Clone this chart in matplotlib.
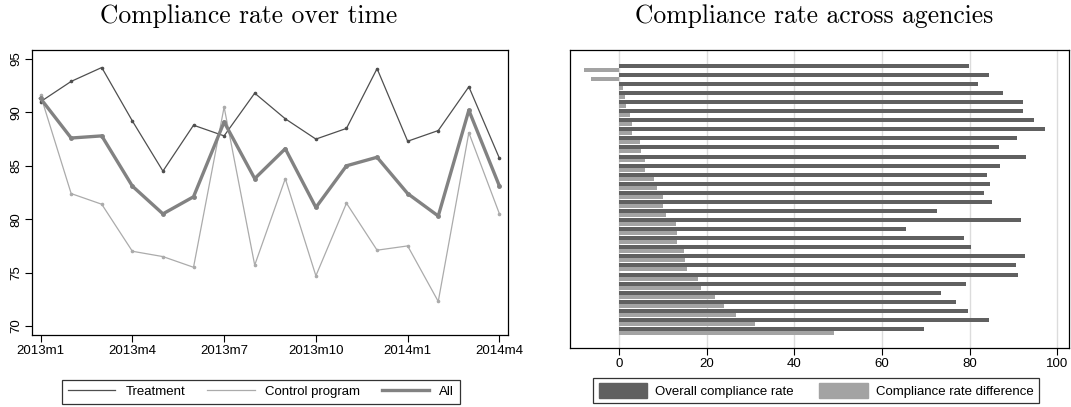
import matplotlib
matplotlib.use('Agg')
import matplotlib.pyplot as plt
import numpy as np
from matplotlib.patches import Patch
from matplotlib.lines import Line2D

plt.rcParams['font.family'] = ['Liberation Sans', 'DejaVu Sans']

# left panel: monthly compliance rates (2013m1 .. 2014m4)
months = list(range(16))
month_ticks = [0, 3, 6, 9, 12, 15]
month_labels = ['2013m1', '2013m4', '2013m7', '2013m10', '2014m1', '2014m4']
treatment = [91.0, 92.9, 94.2, 89.2, 84.5, 88.8, 87.8, 91.8, 89.4, 87.5, 88.5, 94.1, 87.3, 88.3, 92.4, 85.7]
control = [91.6, 82.4, 81.4, 77.0, 76.5, 75.5, 90.5, 75.7, 83.8, 74.7, 81.5, 77.1, 77.5, 72.3, 88.1, 80.5]
overall = [91.3, 87.6, 87.8, 83.1, 80.5, 82.1, 89.1, 83.8, 86.6, 81.1, 85.0, 85.8, 82.4, 80.3, 90.2, 83.1]

# right panel: per agency
agency_rate = [79.8, 84.5, 82.0, 87.7, 92.2, 92.2, 94.6, 97.3, 90.9, 86.8,
               92.9, 87.0, 83.9, 84.6, 83.4, 85.1, 72.6, 91.8, 65.5, 78.8,
               80.3, 92.6, 90.7, 91.1, 79.1, 73.5, 76.8, 79.6, 84.5, 69.5]
agency_diff = [-8.1, -6.4, 0.8, 1.3, 1.5, 2.5, 2.9, 3.0, 4.7, 4.9,
               5.9, 6.0, 8.0, 8.7, 10.1, 10.1, 10.8, 13.0, 13.2, 13.2,
               14.8, 15.1, 15.4, 18.1, 18.7, 21.8, 23.9, 26.6, 31.1, 49.0]

fig = plt.figure(figsize=(10.71, 4.07), dpi=100)

# ---- left: lines over time
ax1 = fig.add_axes([32/1071, 1-335/407, 476/1071, 285/407])
ax1.plot(months, treatment, color='#4f4f4f', lw=0.9, marker='o', ms=1.6, label='Treatment')
ax1.plot(months, control, color='#ababab', lw=0.9, marker='o', ms=1.6, label='Control program')
ax1.plot(months, overall, color='#828282', lw=2.4, marker='o', ms=2.5, label='All')
ax1.set_xlim(-0.28, 15.28)
ax1.set_ylim(69.16, 95.84)
ax1.set_xticks(month_ticks)
ax1.set_xticklabels(month_labels)
ax1.set_yticks([70, 75, 80, 85, 90, 95])
for lab in ax1.get_yticklabels():
    lab.set_rotation(90)
    lab.set_va('center')
ax1.tick_params(labelsize=9.5, length=5, width=0.8, direction='out', pad=2)
for s in ax1.spines.values():
    s.set_linewidth(0.9)

handles = [Line2D([], [], color='#4f4f4f', lw=0.9), Line2D([], [], color='#ababab', lw=0.9),
           Line2D([], [], color='#828282', lw=2.4)]
leg1 = ax1.legend(handles, ['Treatment', 'Control program', 'All'], ncol=3,
                  loc='upper center', bbox_to_anchor=((261-32)/476, -0.133), frameon=True,
                  fancybox=False, edgecolor='black', fontsize=9.5, handlelength=3.6,
                  handletextpad=0.76, columnspacing=1.67, borderpad=0.45, borderaxespad=0.5)
leg1.get_frame().set_linewidth(0.9)

# ---- right: horizontal bars per agency
ax2 = fig.add_axes([570/1071, 1-348/407, 499/1071, 298/407])
pos = np.arange(len(agency_rate))
ax2.barh(pos - 0.22, agency_rate, height=0.44, color='#606060', zorder=2)
ax2.barh(pos + 0.22, agency_diff, height=0.44, color='#a3a3a3', zorder=2)
ax2.set_ylim(30.87, -1.95)
ax2.set_xlim(-11.2, 102.7)
ax2.set_xticks([0, 20, 40, 60, 80, 100])
ax2.set_yticks([])
ax2.grid(axis='x', color='#dcdcdc', lw=1.0, zorder=0)
ax2.tick_params(labelsize=9.5, length=5, width=0.8, direction='out', pad=2)
for s in ax2.spines.values():
    s.set_linewidth(0.9)

handles2 = [Patch(color='#606060'), Patch(color='#a3a3a3')]
leg2 = ax2.legend(handles2, ['Overall compliance rate', 'Compliance rate difference'], ncol=2,
                  loc='upper center', bbox_to_anchor=(246/499, -0.078), frameon=True,
                  fancybox=False, edgecolor='black', fontsize=9.5, handlelength=3.7,
                  handleheight=1.3, handletextpad=0.6, columnspacing=1.9, borderpad=0.4)
leg2.get_frame().set_linewidth(0.9)

# titles
fig.text(249/1071, 1-16/407, 'Compliance rate over time', family='cmr10', fontsize=18.4,
         ha='center', va='center')
fig.text(814/1071, 1-16/407, 'Compliance rate across agencies', family='cmr10', fontsize=18.4,
         ha='center', va='center')

fig.savefig('out.png', dpi=100)
